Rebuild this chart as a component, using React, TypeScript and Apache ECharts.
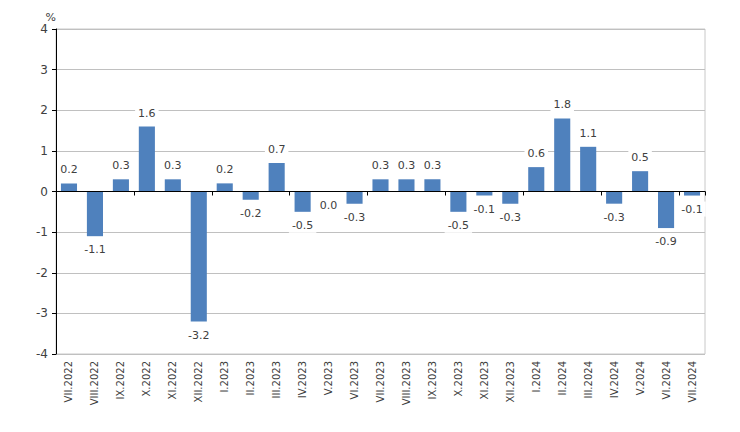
import React, { useEffect, useRef } from "react";
import * as echarts from "echarts";

const categories = [
  "VII.2022", "VIII.2022", "IX.2022", "X.2022", "XI.2022", "XII.2022",
  "I.2023", "II.2023", "III.2023", "IV.2023", "V.2023", "VI.2023",
  "VII.2023", "VIII.2023", "IX.2023", "X.2023", "XI.2023", "XII.2023",
  "I.2024", "II.2024", "III.2024", "IV.2024", "V.2024", "VI.2024", "VII.2024",
];
const values = [
  0.2, -1.1, 0.3, 1.6, 0.3, -3.2,
  0.2, -0.2, 0.7, -0.5, 0.0, -0.3,
  0.3, 0.3, 0.3, -0.5, -0.1, -0.3,
  0.6, 1.8, 1.1, -0.3, 0.5, -0.9, -0.1,
];
const yMin = -4;
const yMax = 4;
const yStep = 1;
const unitLabel = "%";

export default function App() {
  const ref = useRef<HTMLDivElement>(null);
  useEffect(() => {
    document.body.style.margin = "0";
    if (!ref.current) return;
    const chart = echarts.init(ref.current, null, { renderer: "svg" });
    const font = "DejaVu Sans";
    chart.setOption({
      animation: false,
      grid: {
        left: 56, right: 35, top: 29, bottom: 78,
        show: true, borderColor: "#c8c8c8", borderWidth: 1,
        backgroundColor: "transparent",
      },
      xAxis: [
        {
          type: "category",
          data: categories,
          axisLine: { onZero: true, lineStyle: { color: "#000", width: 1 } },
          axisTick: { show: true, alignWithLabel: false, length: 4, lineStyle: { color: "#000" } },
          axisLabel: { show: false },
          splitLine: { show: false },
          z: 5,
        },
        {
          type: "category",
          data: categories,
          position: "bottom",
          axisLine: { onZero: false, show: false },
          axisTick: { show: false },
          axisLabel: {
            rotate: 90, interval: 0, fontFamily: font, fontSize: 10,
            color: "#404040", margin: 7,
          },
        },
      ],
      yAxis: {
        type: "value",
        min: yMin, max: yMax, interval: yStep,
        name: unitLabel,
        nameLocation: "end",
        nameGap: 4,
        nameTextStyle: { fontFamily: font, fontSize: 11, color: "#404040", align: "right", padding: [0, 0, 0, 0] },
        axisLine: { show: true, lineStyle: { color: "#000", width: 1 } },
        axisTick: { show: true, length: 4, lineStyle: { color: "#000" } },
        axisLabel: { fontFamily: font, fontSize: 12, color: "#404040", margin: 8 },
        splitLine: { show: true, lineStyle: { color: "#c0c0c0", width: 1 } },
      },
      series: [
        {
          type: "bar",
          xAxisIndex: 0,
          barWidth: "62%",
          itemStyle: { color: "#4f81bd" },
          data: values.map((v) => ({
            value: v,
            label: { position: v > 0 ? "top" : "bottom" },
          })),
          label: {
            show: true,
            distance: 6,
            fontFamily: font,
            fontSize: 11,
            color: "#404040",
            backgroundColor: "#ffffff",
            padding: [2, 3],
            formatter: (p: any) => Number(p.value).toFixed(1),
          },
        },
      ],
    });
    return () => chart.dispose();
  }, []);
  return <div ref={ref} style={{ width: 740, height: 432 }} />;
}
